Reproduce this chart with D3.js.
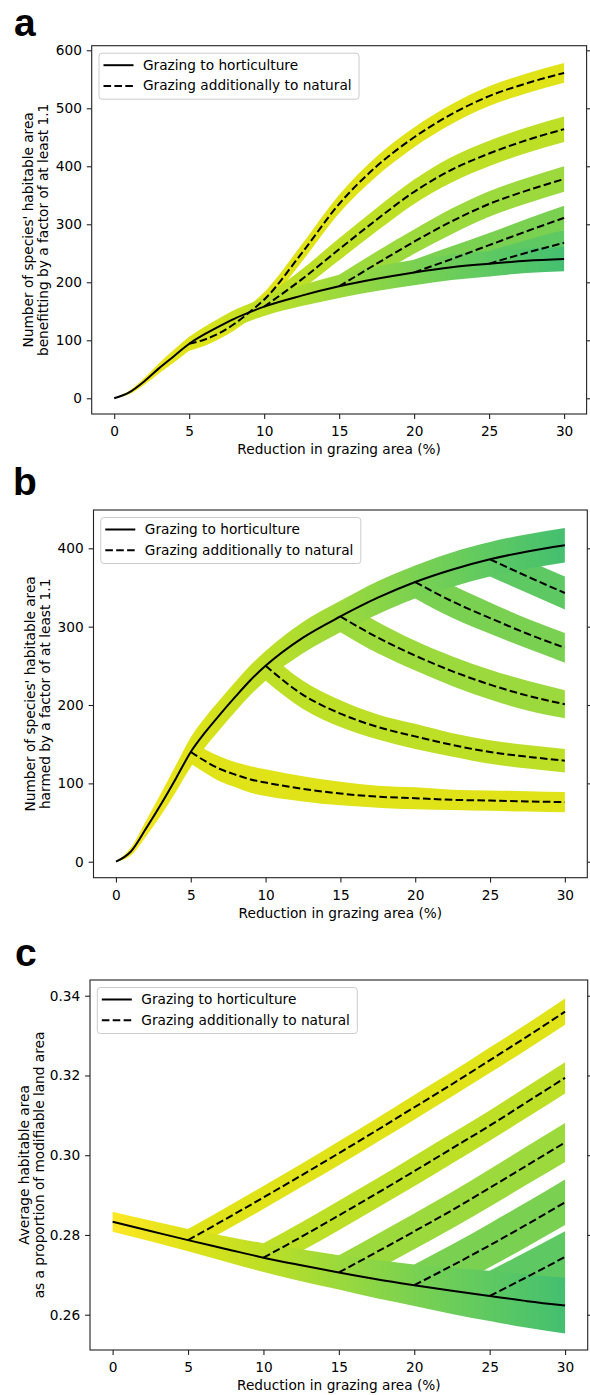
<!DOCTYPE html>
<html>
<head>
<meta charset="utf-8">
<script src="https://cdn.jsdelivr.net/npm/d3@7"></script>
<style>
  body { margin: 0; background: #fff; }
  svg text { font-family: "DejaVu Sans", sans-serif; fill: #000; }
  .letter { font-family: "Liberation Sans", Arial, sans-serif !important; font-weight: bold; }
</style>
</head>
<body>
<svg id="fig" width="590" height="1395"></svg>
<script>
// ---- data ----
var xTicks = [0, 5, 10, 15, 20, 25, 30];
var branchStarts = [5, 10, 15, 20, 25];
var xsAB = [0, 1, 2, 3, 4, 5, 6, 7, 8, 9, 10, 12.5, 15, 17.5, 20, 22.5, 25, 27.5, 30];
var xsC = [0, 2.5, 5, 7.5, 10, 12.5, 15, 17.5, 20, 22.5, 25, 27.5, 30];
var legendLabels = ["Grazing to horticulture", "Grazing additionally to natural"];
var xLabel = "Reduction in grazing area (%)";

// panel a: benefitting species
var aSolid = [0, 10, 29, 52, 73, 94, 110, 124, 137, 148, 158, 177, 193, 206, 217, 226, 232, 237, 240];
var aSolidSpread = [0, 3, 6, 9, 11, 12, 13, 14, 15, 15, 16, 18, 20, 21, 22, 22, 22, 21, 21];
var aBranches = [
  [94, 101, 112, 128, 148, 170, 250, 335, 400, 450, 490, 521, 543, 561],
  [158, 205, 257, 308, 356, 394, 422, 445, 464],
  [193, 232, 270, 305, 335, 358, 378],
  [217, 240, 264, 288, 311],
  [232, 251, 268]
];
var aBranchSpreads = [
  [12, 11, 10, 11, 12, 13, 15, 16, 17, 17, 17, 17, 17, 17],
  [16, 17, 19, 20, 21, 22, 22, 22, 22],
  [20, 21, 21, 22, 22, 22, 22],
  [22, 22, 21, 21, 21],
  [22, 22, 22]
];
var aYTicks = [0, 100, 200, 300, 400, 500, 600];

// panel b: harmed species
var bSolid = [0, 13, 42, 73, 106, 140, 166, 189, 211, 232, 250, 286, 313, 337, 357, 373, 386, 396, 404];
var bSolidSpread = [0, 5, 10, 14, 17, 19, 19, 19, 19, 19, 19, 20, 20, 21, 21, 22, 22, 22, 22];
var bBranches = [
  [140, 128, 118, 111, 105, 101, 93, 87, 83, 81, 79, 78, 77, 76],
  [250, 213, 189, 172, 160, 149, 140, 134, 129],
  [313, 286, 263, 243, 226, 212, 201],
  [357, 332, 311, 291, 273],
  [386, 364, 343]
];
var bBranchSpreads = [
  [15, 15, 16, 16, 17, 17, 16, 15, 14, 14, 13, 13, 13, 13],
  [19, 18, 17, 16, 16, 15, 15, 15, 15],
  [20, 20, 19, 19, 19, 19, 18],
  [21, 21, 20, 19, 19],
  [22, 21, 21]
];
var bYTicks = [0, 100, 200, 300, 400];

// panel c: average habitable area
var cSolid = [0.2833, 0.2810, 0.2787, 0.2765, 0.2743, 0.2724, 0.2706, 0.2689, 0.2674, 0.2660, 0.2647, 0.2634, 0.2623];
var cSolidSpread = [0.0025, 0.0026, 0.0028, 0.0032, 0.0036, 0.0040, 0.0043, 0.0048, 0.0052, 0.0058, 0.0063, 0.0067, 0.0070];
var cBranches = [
  [0.2787, 0.2840, 0.2894, 0.2949, 0.3005, 0.3062, 0.3120, 0.3178, 0.3238, 0.3298, 0.3360],
  [0.2743, 0.2795, 0.2849, 0.2904, 0.2960, 0.3017, 0.3074, 0.3134, 0.3194],
  [0.2706, 0.2757, 0.2809, 0.2862, 0.2918, 0.2975, 0.3032],
  [0.2674, 0.2723, 0.2774, 0.2827, 0.2882],
  [0.2647, 0.2695, 0.2745]
];
var cBranchSpreads = [
  [0.0028, 0.0028, 0.0029, 0.0029, 0.0030, 0.0030, 0.0031, 0.0031, 0.0032, 0.0032, 0.0033],
  [0.0036, 0.0036, 0.0037, 0.0037, 0.0038, 0.0038, 0.0038, 0.0039, 0.0039],
  [0.0043, 0.0044, 0.0045, 0.0046, 0.0047, 0.0048, 0.0049],
  [0.0052, 0.0053, 0.0055, 0.0056, 0.0057],
  [0.0063, 0.0064, 0.0064]
];
var cYTicks = [0.26, 0.28, 0.30, 0.32, 0.34];

var svg = d3.select("#fig");
var FS = 13.7;        // text size
var TICK = 4.9;       // tick length

function bandColor(v) { return d3.interpolateViridis(1 - v / 100); }

function drawPanel(p) {
  var x = d3.scaleLinear().domain([-1.5, 31.5]).range([p.left, p.right]);
  var y = d3.scaleLinear().domain(p.yDomain).range([p.bottom, p.top]);
  var g = svg.append("g");

  var area = d3.area().curve(d3.curveMonotoneX)
    .x(function(d) { return x(d.x); })
    .y0(function(d) { return y(d.v - d.s); })
    .y1(function(d) { return y(d.v + d.s); });
  var line = d3.line().curve(d3.curveMonotoneX)
    .x(function(d) { return x(d.x); })
    .y(function(d) { return y(d.v); });

  var branchPts = p.branches.map(function(vals, i) {
    var xs = p.xs.filter(function(v) { return v >= branchStarts[i]; });
    return xs.map(function(v, j) { return {x: v, v: vals[j], s: p.branchSpreads[i][j]}; });
  });
  var solidPts = p.xs.map(function(v, j) { return {x: v, v: p.solid[j], s: p.solidSpread[j]}; });

  // branch bands, one colour each (colour at branch point)
  branchPts.forEach(function(pts, i) {
    g.append("path").datum(pts).attr("d", area).attr("fill", bandColor(branchStarts[i]));
  });

  // main band with colour running along x
  var gid = "grad-" + p.id;
  var grad = svg.append("defs").append("linearGradient").attr("id", gid)
    .attr("gradientUnits", "userSpaceOnUse")
    .attr("x1", x(0)).attr("x2", x(30)).attr("y1", 0).attr("y2", 0);
  d3.range(0, 31, 5).forEach(function(v) {
    grad.append("stop").attr("offset", v / 30).attr("stop-color", bandColor(v));
  });
  g.append("path").datum(solidPts).attr("d", area).attr("fill", "url(#" + gid + ")");

  // lines
  branchPts.forEach(function(pts) {
    g.append("path").datum(pts).attr("d", line).attr("fill", "none")
      .attr("stroke", "#000").attr("stroke-width", 2).attr("stroke-dasharray", "7.6,3.3");
  });
  g.append("path").datum(solidPts).attr("d", line).attr("fill", "none")
    .attr("stroke", "#000").attr("stroke-width", 2);

  // axes
  var ax = g.append("g").attr("transform", "translate(0," + p.bottom + ")")
    .call(d3.axisBottom(x).tickValues(xTicks).tickSize(TICK).tickPadding(7.4));
  var ay = g.append("g").attr("transform", "translate(" + p.left + ",0)")
    .call(d3.axisLeft(y).tickValues(p.yTicks).tickFormat(p.fmt).tickSize(TICK).tickPadding(4.9));
  var ar = g.append("g").attr("transform", "translate(" + p.right + ",0)")
    .call(d3.axisRight(y).tickValues(p.yTicks).tickFormat("").tickSize(TICK));
  [ax, ay, ar].forEach(function(a) {
    a.select(".domain").remove();
    a.selectAll("line").attr("stroke", "#222").attr("stroke-width", 1.1);
    a.selectAll("text").style("font-size", FS + "px").attr("fill", "#000");
  });

  g.append("rect").attr("x", p.left).attr("y", p.top)
    .attr("width", p.right - p.left).attr("height", p.bottom - p.top)
    .attr("fill", "none").attr("stroke", "#222").attr("stroke-width", 1.1);

  // axis labels
  g.append("text").attr("x", (p.left + p.right) / 2).attr("y", p.bottom + 40)
    .attr("text-anchor", "middle").style("font-size", FS + "px").text(xLabel);
  var cy = (p.top + p.bottom) / 2;
  p.yLabel.forEach(function(t, i) {
    g.append("text").attr("transform", "translate(" + (p.yLabelX + i * 15) + "," + cy + ") rotate(-90)")
      .attr("text-anchor", "middle").style("font-size", FS + "px").text(t);
  });

  // legend
  var lx = p.left + 7.3, ly = p.top + 7.5;
  var leg = g.append("g");
  leg.append("rect").attr("x", lx).attr("y", ly).attr("width", 260).attr("height", 46)
    .attr("rx", 3).attr("fill", "#fff").attr("fill-opacity", 0.8)
    .attr("stroke", "#cccccc").attr("stroke-width", 1);
  legendLabels.forEach(function(t, i) {
    var ry = ly + 12 + i * 20.7;
    leg.append("line").attr("x1", lx + 4.5).attr("x2", lx + 34.5).attr("y1", ry).attr("y2", ry)
      .attr("stroke", "#000").attr("stroke-width", 2)
      .attr("stroke-dasharray", i === 1 ? "7.6,3.3" : null);
    leg.append("text").attr("x", lx + 44).attr("y", ry + 4.5)
      .style("font-size", FS + "px").text(t);
  });

  // panel letter
  svg.append("text").attr("class", "letter").attr("x", p.letterX).attr("y", p.letterY)
    .style("font-size", "39px").text(p.id);
}

drawPanel({
  id: "a", left: 91.7, right: 586.6, top: 45.7, bottom: 414,
  yDomain: [-27.1, 607.9], yTicks: aYTicks, fmt: d3.format("d"),
  xs: xsAB, solid: aSolid, solidSpread: aSolidSpread,
  branches: aBranches, branchSpreads: aBranchSpreads,
  yLabel: ["Number of species' habitable area", "benefitting by a factor of at least 1.1"],
  yLabelX: 33, letterX: 14, letterY: 35.5
});
drawPanel({
  id: "b", left: 93.5, right: 587.3, top: 510, bottom: 877.7,
  yDomain: [-20.4, 448.9], yTicks: bYTicks, fmt: d3.format("d"),
  xs: xsAB, solid: bSolid, solidSpread: bSolidSpread,
  branches: bBranches, branchSpreads: bBranchSpreads,
  yLabel: ["Number of species' habitable area", "harmed by a factor of at least 1.1"],
  yLabelX: 34.5, letterX: 13, letterY: 495
});
drawPanel({
  id: "c", left: 90, right: 587.7, top: 980, bottom: 1350,
  yDomain: [0.25115, 0.34394], yTicks: cYTicks, fmt: d3.format(".2f"),
  xs: xsC, solid: cSolid, solidSpread: cSolidSpread,
  branches: cBranches, branchSpreads: cBranchSpreads,
  yLabel: ["Average habitable area", "as a proportion of modifiable land area"],
  yLabelX: 28.5, letterX: 15, letterY: 966
});
</script>
</body>
</html>
